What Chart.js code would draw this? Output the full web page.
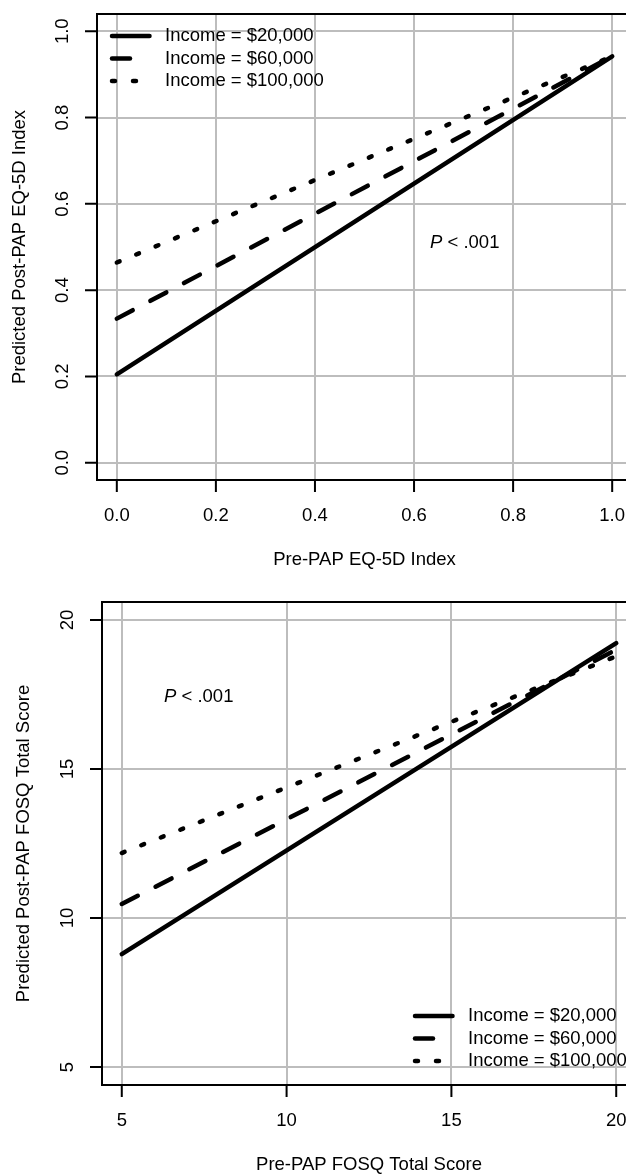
<!DOCTYPE html>
<html>
<head>
<meta charset="utf-8">
<script src="https://cdn.jsdelivr.net/npm/chart.js@4/dist/chart.umd.min.js"></script>
<style>
  html, body { margin: 0; padding: 0; background: #fff; overflow: hidden; width: 626px; height: 1175px; }
  canvas { display: block; }
</style>
</head>
<body>
<canvas id="eq5d" width="650" height="590"></canvas>
<canvas id="fosq" width="650" height="585"></canvas>
<script>
// series names (same for both panels)
const incomeLabels = ['Income = $20,000', 'Income = $60,000', 'Income = $100,000'];

// panel 1: EQ-5D index
const eqX = [0, 1];
const eqIncome20 = [0.205, 0.942];
const eqIncome60 = [0.334, 0.942];
const eqIncome100 = [0.464, 0.942];
const eqTicks = [0, 0.2, 0.4, 0.6, 0.8, 1.0];
const eqTickLabels = ['0.0', '0.2', '0.4', '0.6', '0.8', '1.0'];

// panel 2: FOSQ total score
const fosqX = [5, 20];
const fosqIncome20 = [8.79, 19.22];
const fosqIncome60 = [10.47, 19.0];
const fosqIncome100 = [12.18, 18.78];
const fosqTicks = [5, 10, 15, 20];
const fosqTickLabels = ['5', '10', '15', '20'];

const FONT = '"Liberation Sans", Arial, Helvetica, sans-serif';
const FS = 18.5;
const styles = [
  { dash: [] },
  { dash: [18, 20] },
  { dash: [3, 18] }
];

function toPoints(xs, ys) {
  return xs.map((x, i) => ({ x: x, y: ys[i] }));
}

// draws the R-style box, outside ticks, labels, legend and the P text
const rAxes = {
  id: 'rAxes',
  afterDraw(chart, args, o) {
    const { ctx, chartArea: a, scales: { x, y } } = chart;
    ctx.save();
    ctx.strokeStyle = '#000';
    ctx.lineWidth = 2;
    ctx.strokeRect(a.left, a.top, a.right - a.left, a.bottom - a.top);

    ctx.beginPath();
    o.xTicks.forEach(v => {
      const px = x.getPixelForValue(v);
      ctx.moveTo(px, a.bottom); ctx.lineTo(px, a.bottom + 12);
    });
    o.yTicks.forEach(v => {
      const py = y.getPixelForValue(v);
      ctx.moveTo(a.left, py); ctx.lineTo(a.left - 12, py);
    });
    ctx.stroke();

    ctx.fillStyle = '#000';
    ctx.font = FS + 'px ' + FONT;
    ctx.textAlign = 'center';
    ctx.textBaseline = 'middle';
    o.xTicks.forEach((v, i) => {
      ctx.fillText(o.xLabels[i], x.getPixelForValue(v), a.bottom + 36);
    });
    o.yTicks.forEach((v, i) => {
      ctx.save();
      ctx.translate(a.left - 34, y.getPixelForValue(v));
      ctx.rotate(-Math.PI / 2);
      ctx.fillText(o.yLabels[i], 0, 0);
      ctx.restore();
    });

    // axis titles
    ctx.fillText(o.xTitle, (a.left + a.right) / 2, a.bottom + 80);
    ctx.save();
    ctx.translate(o.yTitleX, (a.top + a.bottom) / 2);
    ctx.rotate(-Math.PI / 2);
    ctx.fillText(o.yTitle, 0, 0);
    ctx.restore();

    // P value note
    ctx.textAlign = 'left';
    ctx.font = 'italic ' + FS + 'px ' + FONT;
    ctx.fillText('P', o.pX, o.pY);
    const pw = ctx.measureText('P').width;
    ctx.font = FS + 'px ' + FONT;
    ctx.fillText(' < .001', o.pX + pw, o.pY);

    // legend
    chart.data.datasets.forEach((ds, i) => {
      const ly = o.legY + i * o.legGap;
      ctx.save();
      ctx.lineWidth = ds.borderWidth;
      ctx.lineCap = 'round';
      ctx.setLineDash(ds.borderDash);
      ctx.beginPath();
      ctx.moveTo(o.legX, ly); ctx.lineTo(o.legX + 37.5, ly);
      ctx.stroke();
      ctx.restore();
      ctx.fillText(ds.label, o.legX + 53, ly);
    });
    ctx.restore();
  }
};

function makeChart(id, xs, series, range, ticks, labels, extra, pad) {
  const datasets = series.map((ys, i) => ({
    label: incomeLabels[i],
    data: toPoints(xs, ys),
    borderColor: '#000',
    borderWidth: 4.5,
    borderDash: styles[i].dash,
    borderCapStyle: 'round',
    pointRadius: 0,
    fill: false,
    tension: 0
  }));
  const scaleOpts = (min, max) => ({
    type: 'linear',
    min: min,
    max: max,
    afterBuildTicks: s => { s.ticks = ticks.map(v => ({ value: v })); },
    ticks: { display: false },
    grid: { color: '#bdbdbd', lineWidth: 2, drawTicks: false },
    border: { display: false },
    title: { display: false }
  });
  return new Chart(document.getElementById(id), {
    type: 'line',
    data: { datasets: datasets },
    options: {
      responsive: false,
      animation: false,
      devicePixelRatio: 1,
      layout: { padding: pad },
      scales: {
        x: scaleOpts(range[0], range[1]),
        y: scaleOpts(range[0], range[1])
      },
      plugins: {
        legend: { display: false },
        tooltip: { enabled: false },
        rAxes: Object.assign({ xTicks: ticks, yTicks: ticks, xLabels: labels, yLabels: labels }, extra)
      }
    },
    plugins: [rAxes]
  });
}

makeChart('eq5d', eqX, [eqIncome20, eqIncome60, eqIncome100], [-0.04, 1.04], eqTicks, eqTickLabels, {
  xTitle: 'Pre-PAP EQ-5D Index',
  yTitle: 'Predicted Post-PAP EQ-5D Index',
  yTitleX: 20,
  pX: 430, pY: 243,
  legX: 112, legY: 36, legGap: 22.5
}, { left: 97, top: 14, right: 18, bottom: 110 });

makeChart('fosq', fosqX, [fosqIncome20, fosqIncome60, fosqIncome100], [4.4, 20.6], fosqTicks, fosqTickLabels, {
  xTitle: 'Pre-PAP FOSQ Total Score',
  yTitle: 'Predicted Post-PAP FOSQ Total Score',
  yTitleX: 24,
  pX: 164, pY: 107,
  legX: 415, legY: 426, legGap: 22.5
}, { left: 102, top: 12, right: 14, bottom: 90 });
</script>
</body>
</html>
